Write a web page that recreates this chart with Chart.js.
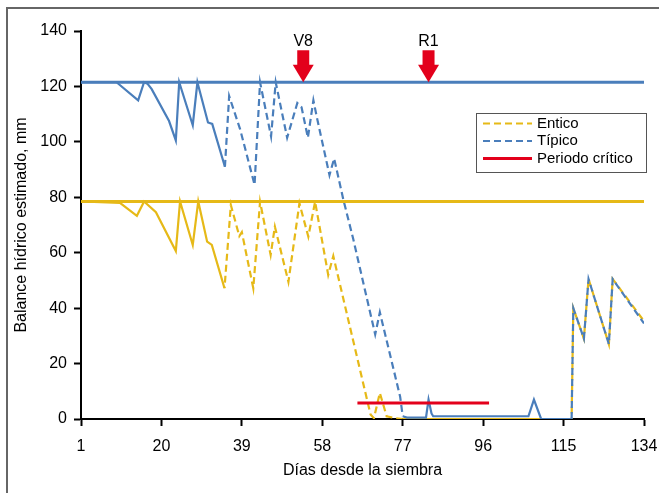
<!DOCTYPE html>
<html>
<head>
<meta charset="utf-8">
<script src="https://cdn.jsdelivr.net/npm/chart.js@4.4.0/dist/chart.umd.min.js"></script>
<style>
html, body { margin: 0; padding: 0; background: #fff; }
</style>
</head>
<body>
<canvas id="balance" width="659" height="493"></canvas>
<script>
// dias y balance hidrico (mm)
const diasTipico = [1, 9.4, 14.5, 15.9, 16.7, 17.7, 21.8, 23.4, 24.2, 27.4, 28.5, 31, 32, 35, 36, 38.6, 42, 43.3, 45.9, 47, 49.7, 52.1, 53.1, 54.6, 55.9, 56.7, 59.7, 60.8, 63, 65.3, 70.5, 71.6, 76.4, 77, 78, 82.5, 83.1, 83.8, 84.2, 106.7, 108, 109.7, 116.9, 117.3, 119.8, 120.9, 125.7, 126.6, 134];
const tipico = [121.5, 121.5, 115, 121.5, 121, 119, 107.5, 100.5, 121.5, 106, 121.5, 107, 106.5, 91, 116.5, 104.5, 84.5, 121.5, 102, 121.5, 101.5, 114, 112.5, 101.5, 115, 109, 88, 94, 79, 65, 30.5, 38.5, 8, 1, 0.5, 0.5, 7, 2, 1, 1, 7, 0, 0, 40, 29, 50.5, 27, 50.5, 34.5];

const diasEntico = [1, 10.2, 14.2, 15.9, 18.7, 23.4, 24.4, 27.4, 28.7, 30.8, 31.9, 34.9, 36.4, 38.4, 39, 41.7, 43.3, 45.8, 46.8, 50, 52.6, 54.7, 56.3, 59.4, 60.6, 69.4, 70.2, 71.6, 73.2, 75.2, 77, 116.9, 117.3, 119.8, 120.9, 125.7, 126.6, 134];
const entico = [78.5, 78, 73.3, 78.5, 74.6, 60.6, 78.5, 62.8, 78.5, 64, 62.8, 47.2, 77.2, 66, 67.4, 47.2, 78.4, 59.2, 69.4, 49.5, 77.8, 65.8, 78.4, 52, 58.8, 1.6, 0.3, 9.4, 1, 0.3, 0, 0, 40, 29, 50.5, 27, 50.5, 35.3];

// capacidad maxima de cada suelo
const maxTipico = 121.5;
const maxEntico = 78.5;

// periodo critico
const diasCritico = [66.3, 97.4];
const critico = [5.8, 5.8];

// estados fenologicos
const etapas = ['V8', 'R1'];
const diasEtapas = [53.5, 83.1];

const diasTicks = [1, 20, 39, 58, 77, 96, 115, 134];
const balanceTicks = [0, 20, 40, 60, 80, 100, 120, 140];

// tramos simulados (linea discontinua)
const tramosDiscontinuos = [[34.5, 77], [116.5, 134]];

const AZUL = '#4a7ebb';
const AMARILLO = '#e6b917';
const ROJO = '#e3001b';
const FUENTE = "'Liberation Sans', Arial, sans-serif";

function puntos(xs, ys) {
    return xs.map((x, i) => ({x: x, y: ys[i]}));
}

function discontinuo(ctx) {
    let x = ctx.p0.parsed.x;
    for (let t of tramosDiscontinuos) {
        if (x >= t[0] && x < t[1]) return [7, 4];
    }
    return undefined;
}

const marco = {
    id: 'marco',
    beforeDraw(chart) {
        let c = chart.ctx;
        c.save();
        c.fillStyle = '#fff';
        c.fillRect(0, 0, chart.width, chart.height);
        c.strokeStyle = '#666';
        c.lineWidth = 2;
        c.beginPath();
        c.moveTo(7, chart.height);
        c.lineTo(7, 8);
        c.lineTo(chart.width, 8);
        c.stroke();
        c.restore();
    }
};

const flechas = {
    id: 'flechas',
    afterDatasetsDraw(chart) {
        let c = chart.ctx;
        let xs = chart.scales.x;
        let ys = chart.scales.y;
        let punta = ys.getPixelForValue(maxTipico);
        c.save();
        c.fillStyle = ROJO;
        for (let i in etapas) {
            let x = xs.getPixelForValue(diasEtapas[i]);
            c.fillRect(x - 6, punta - 32, 12, 15);
            c.beginPath();
            c.moveTo(x - 10.5, punta - 17.5);
            c.lineTo(x + 10.5, punta - 17.5);
            c.lineTo(x, punta);
            c.closePath();
            c.fill();
            c.fillStyle = '#000';
            c.font = '16px ' + FUENTE;
            c.textAlign = 'center';
            c.textBaseline = 'middle';
            c.fillText(etapas[i], x, punta - 41);
            c.fillStyle = ROJO;
        }
        c.restore();
    }
};

const leyenda = {
    id: 'leyenda',
    afterDraw(chart) {
        let c = chart.ctx;
        let x0 = 476, y0 = 113, w = 170, h = 59;
        c.save();
        c.fillStyle = '#fff';
        c.fillRect(x0, y0, w, h);
        c.strokeStyle = '#555';
        c.lineWidth = 1;
        c.strokeRect(x0 + 0.5, y0 + 0.5, w, h);
        let items = chart.data.datasets.filter(d => d.enLeyenda);
        items.forEach((d, i) => {
            let y = y0 + 10.5 + i * 17.5;
            c.strokeStyle = d.borderColor;
            c.lineWidth = d.borderWidth;
            c.setLineDash(d.muestraDiscontinua ? [7, 4] : []);
            c.beginPath();
            c.moveTo(x0 + 7, y);
            c.lineTo(x0 + 56, y);
            c.stroke();
            c.setLineDash([]);
            c.fillStyle = '#000';
            c.font = '15px ' + FUENTE;
            c.textBaseline = 'middle';
            c.fillText(d.label, x0 + 61, y);
        });
        c.restore();
    }
};

let ctx = document.getElementById('balance').getContext('2d');
let grafico = new Chart(ctx, {
    type: 'line',
    data: {
        datasets: [{
            label: 'Entico',
            data: puntos(diasEntico, entico),
            borderColor: AMARILLO,
            backgroundColor: AMARILLO,
            borderWidth: 2.2,
            segment: {borderDash: discontinuo, borderDashOffset: 5.5},
            enLeyenda: true,
            muestraDiscontinua: true,
            order: 4
        }, {
            label: 'Típico',
            data: puntos(diasTipico, tipico),
            borderColor: AZUL,
            backgroundColor: AZUL,
            borderWidth: 2.2,
            segment: {borderDash: discontinuo},
            enLeyenda: true,
            muestraDiscontinua: true,
            order: 3
        }, {
            label: 'Periodo crítico',
            data: puntos(diasCritico, critico),
            borderColor: ROJO,
            backgroundColor: ROJO,
            borderWidth: 3,
            enLeyenda: true,
            order: 1
        }, {
            label: 'Máximo típico',
            data: puntos([diasTicks[0], diasTicks[diasTicks.length - 1]], [maxTipico, maxTipico]),
            borderColor: AZUL,
            borderWidth: 3,
            order: 5
        }, {
            label: 'Máximo entico',
            data: puntos([diasTicks[0], diasTicks[diasTicks.length - 1]], [maxEntico, maxEntico]),
            borderColor: AMARILLO,
            borderWidth: 3,
            order: 2
        }]
    },
    options: {
        responsive: false,
        animation: false,
        devicePixelRatio: 1,
        elements: {
            point: {radius: 0},
            line: {tension: 0}
        },
        layout: {
            padding: {left: 0, right: 15, top: 31, bottom: 0}
        },
        plugins: {
            legend: {display: false},
            tooltip: {enabled: false}
        },
        scales: {
            x: {
                type: 'linear',
                min: 1,
                max: 134,
                z: 1,
                afterBuildTicks: s => { s.ticks = diasTicks.map(v => ({value: v})); },
                afterFit: s => { s.height = 74; s.paddingLeft = 0; s.paddingRight = 0; },
                border: {color: '#000', width: 2},
                grid: {drawOnChartArea: false, tickLength: 7, tickColor: '#000', tickWidth: 2},
                ticks: {color: '#000', padding: 11, maxRotation: 0, font: {family: FUENTE, size: 16}},
                title: {
                    display: true,
                    text: 'Días desde la siembra',
                    color: '#000',
                    font: {family: FUENTE, size: 16},
                    padding: {top: 0, bottom: 13}
                }
            },
            y: {
                min: 0,
                max: 140,
                afterBuildTicks: s => { s.ticks = balanceTicks.map(v => ({value: v})); },
                afterFit: s => { s.width = 81; s.paddingTop = 0; s.paddingBottom = 0; },
                border: {color: '#000', width: 2},
                grid: {drawOnChartArea: false, tickLength: 7, tickColor: '#000', tickWidth: 2},
                ticks: {color: '#000', padding: 7, font: {family: FUENTE, size: 16}},
                title: {
                    display: true,
                    text: 'Balance hídrico estimado, mm',
                    color: '#000',
                    font: {family: FUENTE, size: 16},
                    padding: {top: 12, bottom: 0}
                }
            }
        }
    },
    plugins: [marco, flechas, leyenda]
});
</script>
</body>
</html>
